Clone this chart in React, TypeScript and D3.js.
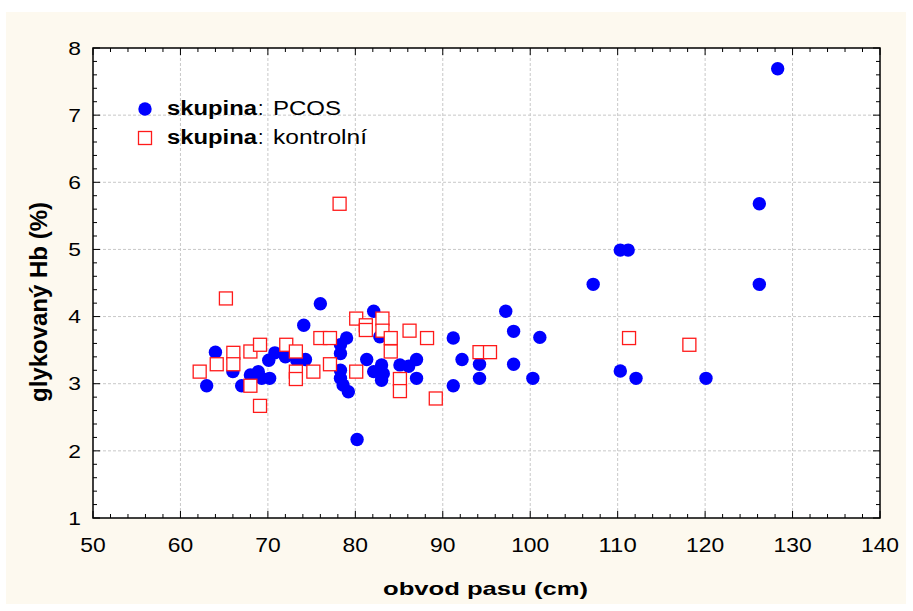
import React from "react";
import * as d3 from "d3";

const pcosX = [63, 64, 66, 67, 68, 68.9, 69.3, 70.2, 70.1, 70.8, 72, 73.3, 74.1, 74.3, 76, 82.1, 79, 78.3, 78.3, 78.3, 78.3, 78.6, 79.2, 81.3, 82.1, 83, 83.2, 83, 82.8, 85.1, 86.1, 87, 87, 91.2, 91.2, 80.2, 92.2, 97.2, 98.1, 101.1, 94.2, 98.1, 94.2, 100.3, 107.2, 110.3, 111.2, 110.3, 112.1, 120.1, 126.2, 126.2, 128.3];
const pcosY = [2.97, 3.47, 3.18, 2.97, 3.13, 3.18, 3.08, 3.08, 3.35, 3.46, 3.4, 3.35, 3.87, 3.36, 4.19, 4.08, 3.68, 3.58, 3.45, 3.2, 3.08, 2.98, 2.88, 3.36, 3.18, 3.28, 3.15, 3.05, 3.7, 3.28, 3.26, 3.36, 3.08, 3.68, 2.97, 2.17, 3.36, 4.08, 3.78, 3.69, 3.29, 3.29, 3.08, 3.08, 4.48, 4.99, 4.99, 3.19, 3.08, 3.08, 4.48, 5.68, 7.69];

const kontrolX = [65.2, 62.2, 64.15, 66.05, 66.05, 68, 69.1, 68, 69.1, 72.1, 73.2, 73.2, 73.2, 75.2, 76, 77.1, 77.1, 80.1, 81.2, 81.2, 83.1, 83.1, 84.05, 84.05, 86.2, 88.2, 80.1, 85.1, 85.1, 89.2, 78.2, 94.2, 95.4, 111.3, 118.2];
const kontrolY = [4.27, 3.18, 3.29, 3.46, 3.29, 3.48, 3.58, 2.97, 2.67, 3.58, 3.48, 3.18, 3.07, 3.18, 3.68, 3.68, 3.29, 3.97, 3.87, 3.8, 3.97, 3.79, 3.68, 3.48, 3.79, 3.68, 3.18, 3.07, 2.89, 2.78, 5.68, 3.47, 3.47, 3.68, 3.58];

const xTicks = [50, 60, 70, 80, 90, 100, 110, 120, 130, 140];
const yTicks = [1, 2, 3, 4, 5, 6, 7, 8];

const W = 913, H = 611;
const L = 93, R = 880, T = 48, B = 518;
const FONT = "'Liberation Sans', Arial, sans-serif";

export default function App() {
  const x = d3.scaleLinear().domain([50, 140]).range([L, R]);
  const y = d3.scaleLinear().domain([1, 8]).range([B, T]);
  const xMinor = d3.range(50, 140.01, 2);
  const yMinor = d3.range(1, 8.01, 0.2);
  const blue = "#0000ff";
  const red = "#ff1a1a";
  const adj = "spacingAndGlyphs";
  return (
    <svg width={W} height={H} style={{ position: "absolute", left: 0, top: 0 }}>
      <rect x={0} y={0} width={W} height={H} fill="#ffffff" />
      <rect x={6} y={12} width={900} height={592} fill="#fdf9ef" />
      <rect x={L} y={T} width={R - L} height={B - T} fill="#ffffff" />
      {xTicks.slice(1, -1).map((t) => (
        <line key={"gx" + t} x1={x(t)} x2={x(t)} y1={T} y2={B} stroke="#c8c8c8" strokeDasharray="3,2" strokeWidth={1} />
      ))}
      {yTicks.slice(1, -1).map((t) => (
        <line key={"gy" + t} x1={L} x2={R} y1={y(t)} y2={y(t)} stroke="#c8c8c8" strokeDasharray="3,2" strokeWidth={1} />
      ))}
      {xMinor.map((t, i) => {
        const len = i % 5 === 0 ? 7 : 4;
        return (
          <g key={"tx" + i}>
            <line x1={x(t)} x2={x(t)} y1={B} y2={B - len} stroke="#000" strokeWidth={1} />
            <line x1={x(t)} x2={x(t)} y1={T} y2={T + len} stroke="#000" strokeWidth={1} />
          </g>
        );
      })}
      {yMinor.map((t, i) => {
        const len = i % 5 === 0 ? 7 : 4;
        return (
          <g key={"ty" + i}>
            <line x1={L} x2={L + len} y1={y(t)} y2={y(t)} stroke="#000" strokeWidth={1} />
            <line x1={R} x2={R - len} y1={y(t)} y2={y(t)} stroke="#000" strokeWidth={1} />
          </g>
        );
      })}
      <rect x={L} y={T} width={R - L} height={B - T} fill="none" stroke="#000" strokeWidth={1.5} />
      {xTicks.map((t) => (
        <text key={"lx" + t} x={x(t) - (String(t).length * 12.7) / 2} y={552} fontFamily={FONT} fontSize={20} fill="#000"
          textLength={String(t).length * 12.7} lengthAdjust={adj}>{t}</text>
      ))}
      {yTicks.map((t) => (
        <text key={"ly" + t} x={81 - String(t).length * 12.7} y={y(t) + 6.7} fontFamily={FONT} fontSize={18.6} fill="#000"
          textLength={String(t).length * 12.7} lengthAdjust={adj}>{t}</text>
      ))}
      <text x={383} y={595} fontFamily={FONT} fontSize={19} fontWeight="bold" fill="#000" textLength={205} lengthAdjust={adj}>obvod pasu (cm)</text>
      <text transform={`translate(47,302) rotate(-90)`} x={-100} y={0} fontFamily={FONT} fontSize={23.5} fontWeight="bold" fill="#000" textLength={200} lengthAdjust={adj}>glykovaný Hb (%)</text>
      <g>
        {pcosX.map((v, i) => (
          <circle key={"p" + i} cx={x(v)} cy={y(pcosY[i])} r={6.7} fill={blue} />
        ))}
      </g>
      <g>
        {kontrolX.map((v, i) => (
          <rect key={"k" + i} x={x(v) - 6.5} y={y(kontrolY[i]) - 6.5} width={13} height={13} fill="#ffffff" stroke={red} strokeWidth={1.3} />
        ))}
      </g>
      <circle cx={145} cy={109} r={6.7} fill={blue} />
      <text x={167} y={115} fontFamily={FONT} fontSize={19.5} fontWeight="bold" fill="#000" textLength={90} lengthAdjust={adj}>skupina</text>
      <text x={258} y={115} fontFamily={FONT} fontSize={19.5} fill="#000">:</text>
      <text x={273} y={115} fontFamily={FONT} fontSize={19.5} fill="#000" textLength={68} lengthAdjust={adj}>PCOS</text>
      <rect x={138.5} y={131.5} width={13} height={13} fill="#fff" stroke={red} strokeWidth={1.3} />
      <text x={167} y={143.5} fontFamily={FONT} fontSize={19.5} fontWeight="bold" fill="#000" textLength={90} lengthAdjust={adj}>skupina</text>
      <text x={258} y={143.5} fontFamily={FONT} fontSize={19.5} fill="#000">:</text>
      <text x={273} y={143.5} fontFamily={FONT} fontSize={19.5} fill="#000" textLength={94} lengthAdjust={adj}>kontrolní</text>
    </svg>
  );
}
